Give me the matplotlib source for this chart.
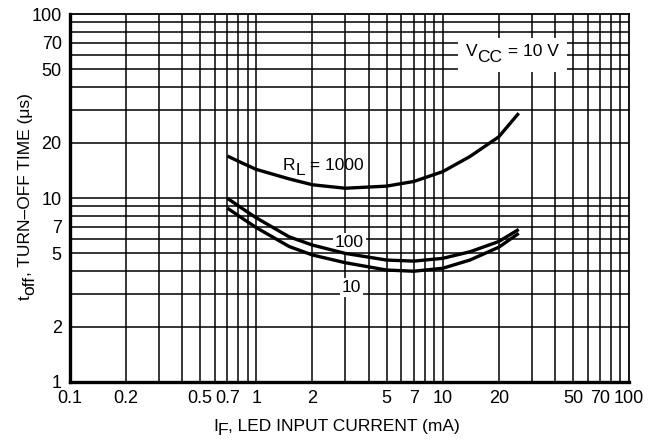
import matplotlib
matplotlib.use("Agg")
import matplotlib.pyplot as plt
from matplotlib.transforms import IdentityTransform, Bbox
from matplotlib.patches import Rectangle

plt.rcParams['font.family'] = ['Liberation Sans', 'DejaVu Sans']

# data
i_f = [0.7, 0.85, 1, 1.5, 2, 3, 5, 7, 10, 14, 20, 25.6]
t_1000 = [16.9, 15.4, 14.3, 12.7, 11.8, 11.3, 11.6, 12.3, 13.9, 16.8, 21.5, 28.9]
t_100 = [9.96, 8.7, 7.8, 6.15, 5.55, 5.0, 4.6, 4.54, 4.7, 5.1, 5.8, 6.75]
t_10 = [8.8, 7.7, 6.9, 5.45, 4.9, 4.45, 4.06, 4.0, 4.15, 4.6, 5.4, 6.43]

x_ticks = [0.1, 0.2, 0.5, 0.7, 1, 2, 5, 7, 10, 20, 50, 70, 100]
x_labels = ["0.1", "0.2", "0.5", "0.7", "1", "2", "5", "7", "10", "20", "50", "70", "100"]
y_ticks = [1, 2, 5, 7, 10, 20, 50, 70, 100]
y_labels = ["1", "2", "5", "7", "10", "20", "50", "70", "100"]

fig = plt.figure(figsize=(6.56, 4.43), dpi=100)
ax = fig.add_axes([70/656, 1 - 382/443, 559/656, 368/443])
ax.set_xscale('log')
ax.set_yscale('log')
ax.set_xlim(0.1, 100)
ax.set_ylim(1, 100)

# grid on every 1-9 line of each decade
xg = [m * 10.0**d for d in (-1, 0, 1) for m in range(1, 10)]
yg = [m * 10.0**d for d in (0, 1) for m in range(1, 10)]
for v in xg:
    ax.axvline(v, color='black', lw=1.1, zorder=1)
for v in yg:
    ax.axhline(v, color='black', lw=1.1, zorder=1)

ax.plot(i_f, t_1000, color='black', lw=2.4, zorder=3, solid_capstyle='butt')
ax.plot(i_f, t_100, color='black', lw=2.4, zorder=3, solid_capstyle='butt')
ax.plot(i_f, t_10, color='black', lw=2.4, zorder=3, solid_capstyle='butt')

ax.set_xticks(x_ticks, x_labels)
ax.set_xticks([], minor=True)
ax.set_yticks(y_ticks, y_labels)
ax.set_yticks([], minor=True)
ax.tick_params(which='both', length=0, labelsize=13, pad=6)

for s in ['left', 'bottom']:
    ax.spines[s].set_linewidth(2.4)
for s in ['top', 'right']:
    ax.spines[s].set_linewidth(1.3)

renderer = fig.canvas.get_renderer()
ident = IdentityTransform()


def text_width(s, size):
    t = fig.text(0, 0, s, fontsize=size)
    w = t.get_window_extent(renderer).width
    t.remove()
    return w


def sub_text(x0, y0, parts, size=12.5, drop=5, rotated=False, white=None):
    """write text pieces one after another, starting at display point (x0, y0)
    (left end of baseline); pieces flagged True are dropped as subscripts"""
    arts = []
    pos = 0
    for s, sub in parts:
        off = -drop if sub else 0
        if rotated:
            xy = (x0 - off, y0 + pos)
        else:
            xy = (x0 + pos, y0 + off)
        t = ax.text(xy[0], xy[1], s, fontsize=size, transform=ident,
                    ha='left', va='baseline', rotation=90 if rotated else 0,
                    rotation_mode='anchor', zorder=6, clip_on=False)
        arts.append(t)
        pos += text_width(s, size)
    if white is not None:
        bb = Bbox.union([a.get_window_extent(renderer) for a in arts])
        px, py = white
        # white patch hides the grid only, curves stay on top
        ax.add_patch(Rectangle((bb.x0 - px, bb.y0 - py), bb.width + 2*px, bb.height + 2*py,
                               transform=ident, facecolor='white', edgecolor='none',
                               zorder=2, clip_on=False))
    return arts


H = 443  # figure height in pixels, display y runs upward
sub_text(283, H - 170, [("R", False), ("L", True), (" = 1000", False)])
sub_text(466, H - 56.5, [("V", False), ("CC", True), (" = 10 V", False)], white=(8, 7))
sub_text(335, H - 247, [("100", False)], white=(2, 2))
sub_text(342, H - 292, [("10", False)], white=(2, 2))

# axis titles with full size subscripts
sub_text(213, H - 431, [("I", False), ("F", True), (", LED INPUT CURRENT (mA)", False)], drop=4)
sub_text(30, H - 300, [("t", False), ("off", True), (", TURN–OFF TIME (μs)", False)], drop=4,
         rotated=True)

fig.savefig("out.png", dpi=100)
